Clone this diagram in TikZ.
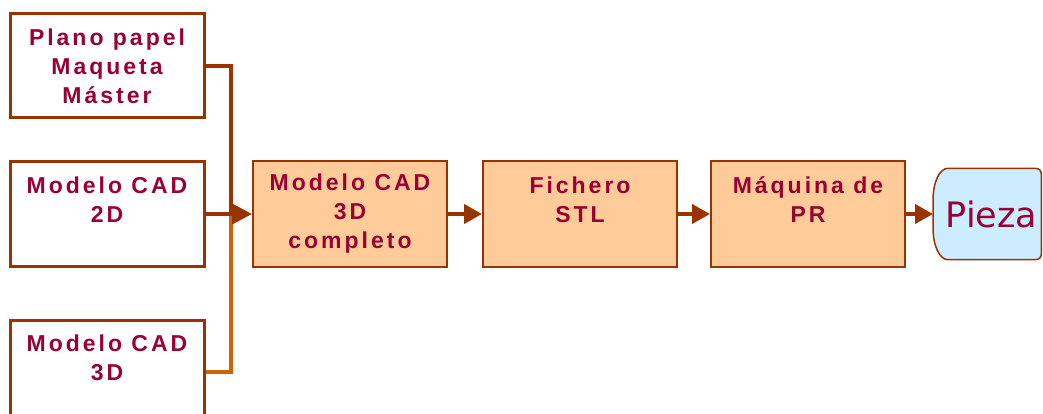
\documentclass[tikz,border=0pt]{standalone}
\usepackage{fontspec}
\usepackage{tikz}
\usetikzlibrary{arrows.meta, calc, positioning, backgrounds}
\newfontfamily\boxfont[LetterSpace=13]{Liberation Sans}
\newfontfamily\piezafont{DejaVu Sans}
\definecolor{marron}{HTML}{993300}
\definecolor{granate}{HTML}{990033}
\definecolor{naranja}{HTML}{CC6600}
\definecolor{melocoton}{HTML}{FFCC99}
\definecolor{celeste}{HTML}{CCECFF}

\begin{document}
\begin{tikzpicture}[x=1pt, y=-1pt,
  origen/.style={draw=marron, line width=3pt, fill=white, rectangle, minimum width=194pt, minimum height=104pt, align=center, text=granate, font=\boxfont\bfseries\fontsize{23}{29}\selectfont},
  proceso/.style={origen, line width=2pt, fill=melocoton, minimum height=105pt},
  flecha/.style={marron, line width=4pt, -{Triangle[length=18pt,width=19pt]}},
  linea/.style={line width=4pt}
]
\useasboundingbox (0,0) rectangle (1043,414);
\clip (0,0) rectangle (1043,414);

\node[origen] (plano) at (107,66) {Plano papel\\Maqueta\\Máster};
\node[origen, below=41pt of plano] (cad2d) {Modelo CAD\\2D\\\mbox{}};
\node[origen, below=51pt of cad2d] (cad3d) {Modelo CAD\\3D\\\mbox{}};

\node[proceso, right=46.5pt of cad2d] (completo) {Modelo CAD\\3D\\completo};
\node[proceso, right=34pt of completo] (stl) {Fichero\\STL\\\mbox{}};
\node[proceso, right=32pt of stl] (maquina) {Máquina de\\PR\\\mbox{}};
\node[right=27pt of maquina, minimum width=108pt, minimum height=91pt, text width=100pt, align=right, text=granate, font=\piezafont\fontsize{35}{40}\selectfont] (pieza) {Pieza};

% forma de la pieza
\begin{scope}[on background layer]
\draw[marron, line width=1.5pt, fill=celeste]
  ($(pieza.north west)+(15,0)$) -- ($(pieza.north east)+(-7,0)$)
  .. controls ($(pieza.north east)+(-2,0)$) and ($(pieza.north east)+(0,2)$) .. ($(pieza.north east)+(0,7)$)
  -- ($(pieza.south east)+(0,-7)$)
  .. controls ($(pieza.south east)+(0,-2)$) and ($(pieza.south east)+(-2,0)$) .. ($(pieza.south east)+(-7,0)$)
  -- ($(pieza.south west)+(15,0)$)
  .. controls ($(pieza.south west)+(6.5,0)$) and ($(pieza.south west)+(0,-14)$) .. ($(pieza.south west)+(0,-32)$)
  -- ($(pieza.north west)+(0,32)$)
  .. controls ($(pieza.north west)+(0,14)$) and ($(pieza.north west)+(6.5,0)$) .. cycle;
\end{scope}

\coordinate[right=25.5pt of cad2d.east] (cruce);
\draw[linea, naranja] (cad3d.east) -| (cruce);
\draw[linea, marron] (plano.east) -| (cruce);
\draw[flecha, -{Triangle[length=20pt,width=20pt]}] (cad2d.east) -- (completo.west);

\draw[flecha] (completo) -- (stl);
\draw[flecha] (stl) -- (maquina);
\draw[flecha] (maquina) -- (pieza);
\end{tikzpicture}
\end{document}
